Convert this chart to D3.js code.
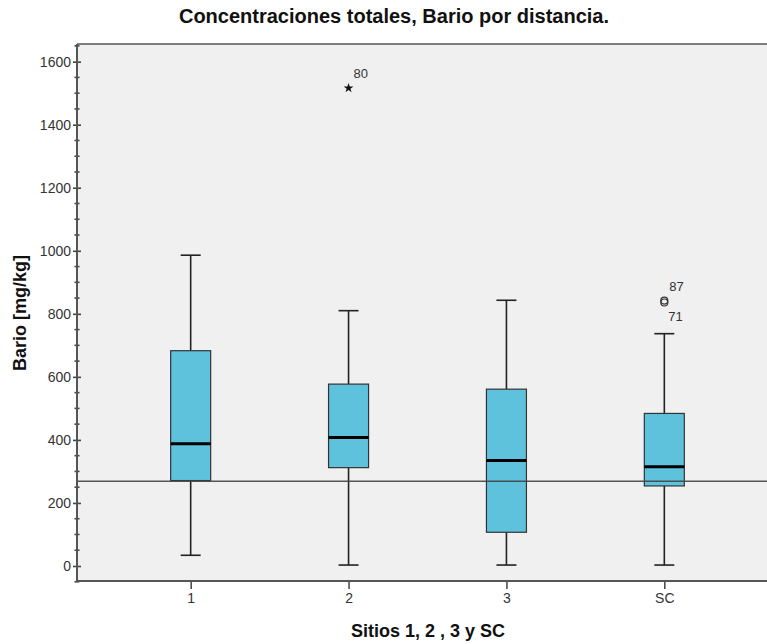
<!DOCTYPE html>
<html>
<head>
<meta charset="utf-8">
<script src="https://cdn.jsdelivr.net/npm/d3@7"></script>
<style>
  body { margin: 0; background: #fff; }
  text { font-family: "Liberation Sans", Arial, sans-serif; }
</style>
</head>
<body>
<svg class="chart"></svg>
<script>
// Boxplot of Bario by site (SPSS style)

// Data
var sites = ["1", "2", "3", "SC"];
var whiskerLow = [34, 3, 3, 3];
var q1 = [271, 312, 107, 254];
var median = [388, 408, 335, 315];
var q3 = [683, 577, 561, 484];
var whiskerHigh = [986, 810, 843, 737];
// outliers: site, value, case label, kind
var outlierSite = ["2", "SC", "SC"];
var outlierValue = [1516, 842, 836];
var outlierLabel = ["80", "87", "71"];
var outlierKind = ["extreme", "mild", "mild"];
var refLine = 269;
var yTicks = [0, 200, 400, 600, 800, 1000, 1200, 1400, 1600];

var W = 767, H = 644;
var plot = { left: 77, top: 44, right: 767, bottom: 581 };

var svg = d3.select(".chart")
	.attr("width", W)
	.attr("height", H);

// Scales
var x = d3.scalePoint()
	.domain(sites)
	.range([plot.left, 778])
	.padding(0.72);

var y = d3.scaleLinear()
	.domain([-47.6, 1656])
	.range([plot.bottom, plot.top]);

// Plot background
svg.append("rect")
	.attr("x", plot.left)
	.attr("y", plot.top)
	.attr("width", plot.right - plot.left)
	.attr("height", plot.bottom - plot.top)
	.attr("fill", "#f0f0f0");

// Top border
svg.append("line")
	.attr("x1", plot.left).attr("x2", plot.right)
	.attr("y1", plot.top).attr("y2", plot.top)
	.attr("stroke", "#555").attr("stroke-width", 1.5);

// Title
svg.append("text")
	.attr("x", 394)
	.attr("y", 23)
	.attr("text-anchor", "middle")
	.style("font-size", "20px")
	.style("font-weight", "bold")
	.style("fill", "#111")
	.text("Concentraciones totales, Bario por distancia.");

// Boxes
var boxW = 40, capW = 20;
var boxes = sites.map(function(s, i) {
	return { site: s, lo: whiskerLow[i], q1: q1[i], med: median[i], q3: q3[i], hi: whiskerHigh[i] };
});

var g = svg.selectAll(".box")
	.data(boxes)
	.enter().append("g")
	.attr("class", "box");

// whisker lines
g.append("line")
	.attr("x1", function(d) { return x(d.site); })
	.attr("x2", function(d) { return x(d.site); })
	.attr("y1", function(d) { return y(d.hi); })
	.attr("y2", function(d) { return y(d.lo); })
	.attr("stroke", "#222").attr("stroke-width", 1.6);
// caps
["hi", "lo"].forEach(function(k) {
	g.append("line")
		.attr("x1", function(d) { return x(d.site) - capW / 2; })
		.attr("x2", function(d) { return x(d.site) + capW / 2; })
		.attr("y1", function(d) { return y(d[k]); })
		.attr("y2", function(d) { return y(d[k]); })
		.attr("stroke", "#222").attr("stroke-width", 1.6);
});
// box
g.append("rect")
	.attr("x", function(d) { return x(d.site) - boxW / 2; })
	.attr("y", function(d) { return y(d.q3); })
	.attr("width", boxW)
	.attr("height", function(d) { return y(d.q1) - y(d.q3); })
	.attr("fill", "#5ec2dc")
	.attr("stroke", "#333")
	.attr("stroke-width", 1.2);
// median
g.append("line")
	.attr("x1", function(d) { return x(d.site) - boxW / 2; })
	.attr("x2", function(d) { return x(d.site) + boxW / 2; })
	.attr("y1", function(d) { return y(d.med); })
	.attr("y2", function(d) { return y(d.med); })
	.attr("stroke", "#000").attr("stroke-width", 3);

// Reference line
svg.append("line")
	.attr("x1", plot.left).attr("x2", plot.right)
	.attr("y1", y(refLine)).attr("y2", y(refLine))
	.attr("stroke", "#444").attr("stroke-width", 1.5)
	.attr("stroke-opacity", 0.9);

// Outliers
var outliers = outlierSite.map(function(s, i) {
	return { site: s, value: outlierValue[i], label: outlierLabel[i], kind: outlierKind[i] };
});
var star = d3.symbol().type(d3.symbolStar).size(30);
svg.selectAll(".extreme")
	.data(outliers.filter(function(d) { return d.kind == "extreme"; }))
	.enter().append("path")
	.attr("class", "extreme")
	.attr("d", star)
	.attr("transform", function(d) { return "translate(" + x(d.site) + "," + y(d.value) + ")"; })
	.attr("fill", "#111");
svg.selectAll(".mild")
	.data(outliers.filter(function(d) { return d.kind == "mild"; }))
	.enter().append("circle")
	.attr("class", "mild")
	.attr("cx", function(d) { return x(d.site); })
	.attr("cy", function(d) { return y(d.value); })
	.attr("r", 3.5)
	.attr("fill", "none")
	.attr("stroke", "#333")
	.attr("stroke-width", 1.2);
// case labels (87 sits above, 71 below)
svg.selectAll(".olabel")
	.data(outliers)
	.enter().append("text")
	.attr("class", "olabel")
	.attr("x", function(d) { return x(d.site) + (d.label == "71" ? 4 : 5); })
	.attr("y", function(d) { return y(d.value) + (d.label == "71" ? 19 : -10); })
	.style("font-size", "13px")
	.style("fill", "#333")
	.text(function(d) { return d.label; });

// Y axis
var yAxis = d3.axisLeft(y)
	.tickValues(yTicks)
	.tickFormat(d3.format("d"))
	.tickSize(4)
	.tickPadding(2);
var ya = svg.append("g")
	.attr("transform", "translate(" + plot.left + ",0)")
	.call(yAxis);
ya.select(".domain").remove();
ya.selectAll(".tick line")
	.attr("x1", 4)
	.attr("stroke", "#444").attr("stroke-width", 1.6);
ya.selectAll(".tick text")
	.style("font-family", "Liberation Sans, Arial, sans-serif")
	.style("font-size", "14px")
	.style("fill", "#333");
// minor ticks every 50
var minor = d3.range(-50, 1651, 50).filter(function(v) { return v % 200 != 0; });
svg.selectAll(".minor")
	.data(minor)
	.enter().append("line")
	.attr("class", "minor")
	.attr("x1", plot.left - 2.5).attr("x2", plot.left + 2.5)
	.attr("y1", function(d) { return y(d); })
	.attr("y2", function(d) { return y(d); })
	.attr("stroke", "#444").attr("stroke-width", 1.6);
svg.append("line")
	.attr("x1", plot.left).attr("x2", plot.left)
	.attr("y1", plot.top).attr("y2", plot.bottom)
	.attr("stroke", "#555").attr("stroke-width", 2);

// X axis
var xAxis = d3.axisBottom(x).tickSize(8).tickPadding(4);
var xa = svg.append("g")
	.attr("transform", "translate(0," + plot.bottom + ")")
	.call(xAxis);
xa.select(".domain").remove();
xa.selectAll(".tick line").attr("stroke", "#444").attr("stroke-width", 1.5);
xa.selectAll(".tick text")
	.style("font-family", "Liberation Sans, Arial, sans-serif")
	.style("font-size", "14px")
	.style("fill", "#333");
svg.append("line")
	.attr("x1", plot.left).attr("x2", plot.right)
	.attr("y1", plot.bottom).attr("y2", plot.bottom)
	.attr("stroke", "#555").attr("stroke-width", 2);

// Axis titles
svg.append("text")
	.attr("x", 428)
	.attr("y", 637)
	.attr("text-anchor", "middle")
	.style("font-size", "18px")
	.style("font-weight", "bold")
	.style("fill", "#111")
	.text("Sitios 1, 2 , 3 y SC");

svg.append("text")
	.attr("transform", "rotate(-90)")
	.attr("x", -313)
	.attr("y", 26)
	.attr("text-anchor", "middle")
	.style("font-size", "18px")
	.style("font-weight", "bold")
	.style("fill", "#111")
	.text("Bario [mg/kg]");
</script>
</body>
</html>
